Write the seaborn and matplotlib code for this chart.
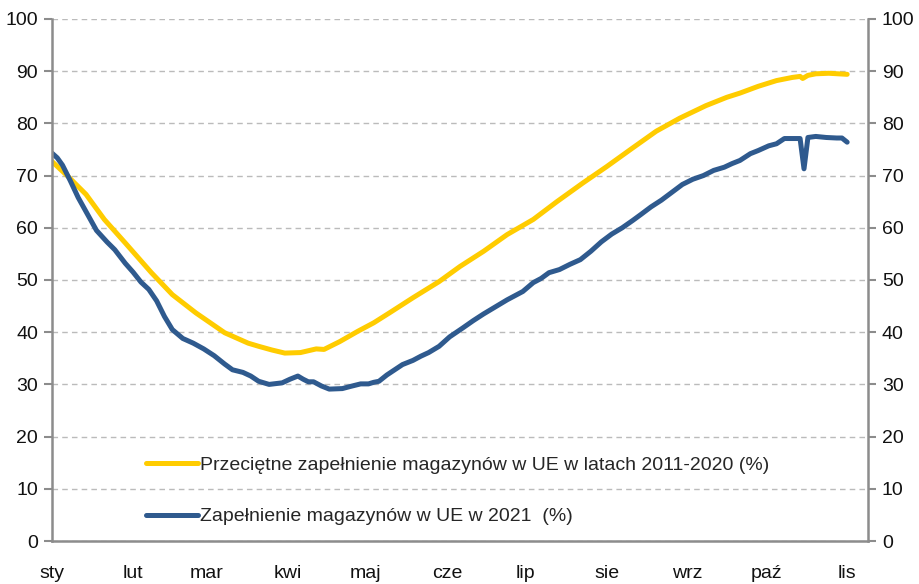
import numpy as np
import pandas as pd
import seaborn as sns
import matplotlib.pyplot as plt


MONTH_LABELS = ['sty', 'lut', 'mar', 'kwi', 'maj', 'cze', 'lip', 'sie', 'wrz', 'paź', 'lis']
MONTH_STARTS = [0, 31, 59, 90, 120, 151, 181, 212, 243, 273, 304]

# average storage fill 2011-2020 (day of year, %)
avg_days = [0, 6, 13, 20, 28, 38, 46, 55, 66, 75, 79, 84, 89, 95, 101, 104, 110, 117, 123,
            129, 138, 148, 156, 165, 174, 184, 193, 203, 212, 222, 231, 240, 250, 258, 263,
            270, 277, 283, 286, 287, 289, 292, 297, 304]
avg_vals = [72.7, 69.9, 66.4, 61.6, 57.1, 51.4, 47.2, 43.7, 39.9, 37.9, 37.3, 36.6, 36.0, 36.1,
            36.8, 36.7, 38.2, 40.2, 41.8, 43.7, 46.6, 49.7, 52.6, 55.5, 58.7, 61.6, 65.0, 68.6,
            71.7, 75.3, 78.5, 81.0, 83.4, 85.0, 85.8, 87.1, 88.2, 88.8, 89.0, 88.6, 89.2, 89.5,
            89.6, 89.4]

# storage fill 2021 (day of year, %)
y2021_days = [0, 2, 4, 7, 10, 14, 17, 21, 24, 28, 31, 34, 37, 40, 43, 46, 50, 54, 58, 62, 66,
              69, 73, 76, 79, 83, 88, 91, 94, 96, 98, 100, 103, 106, 111, 114, 118, 121, 123,
              125, 128, 131, 134, 138, 141, 144, 148, 152, 157, 161, 165, 170, 174, 177, 180,
              184, 187, 190, 194, 198, 202, 206, 210, 214, 218, 222, 225, 229, 233, 237, 241,
              245, 249, 253, 257, 260, 263, 267, 270, 274, 277, 280, 283, 286, 287.5, 289, 292,
              296, 300, 302, 304]
y2021_vals = [74.3, 73.4, 72.0, 69.0, 65.8, 62.2, 59.5, 57.3, 55.8, 53.2, 51.5, 49.6, 48.2, 46.0,
              43.0, 40.5, 38.8, 37.9, 36.8, 35.5, 33.9, 32.8, 32.3, 31.6, 30.6, 30.0, 30.3, 31.0,
              31.6, 31.0, 30.5, 30.5, 29.7, 29.1, 29.2, 29.6, 30.1, 30.1, 30.4, 30.6, 31.8, 32.8,
              33.8, 34.6, 35.4, 36.1, 37.3, 39.1, 40.8, 42.2, 43.5, 45.0, 46.2, 47.0, 47.8, 49.5,
              50.3, 51.4, 52.0, 53.0, 53.9, 55.5, 57.3, 58.8, 60.0, 61.4, 62.5, 64.0, 65.3, 66.8,
              68.3, 69.3, 70.0, 71.0, 71.6, 72.3, 72.9, 74.2, 74.8, 75.7, 76.1, 77.1, 77.1, 77.1,
              71.3, 77.3, 77.5, 77.3, 77.2, 77.2, 76.4]

LABEL_AVG = 'Przeciętne zapełnienie magazynów w UE w latach 2011-2020 (%)'
LABEL_2021 = 'Zapełnienie magazynów w UE w 2021  (%)'

sns.set_style('white')
plt.rcParams['font.family'] = ['Liberation Sans', 'DejaVu Sans']

df_avg = pd.DataFrame({'day': avg_days, 'val': avg_vals})
df_2021 = pd.DataFrame({'day': y2021_days, 'val': y2021_vals})

fig = plt.figure(figsize=(9.19, 5.84), dpi=100)
ax = fig.add_axes([0.0566, 0.0736, 0.888, 0.8939])

sns.lineplot(data=df_avg, x='day', y='val', ax=ax, color='#FFCC00', linewidth=3.6,
             label=LABEL_AVG, solid_capstyle='round')
sns.lineplot(data=df_2021, x='day', y='val', ax=ax, color='#2F5A8E', linewidth=3.6,
             label=LABEL_2021, solid_capstyle='round')

ax.set_xlim(0, 312)
ax.set_ylim(0, 100)
ax.set_xlabel('')
ax.set_ylabel('')
ax.set_xticks(MONTH_STARTS)
ax.set_xticklabels(MONTH_LABELS)
ax.set_yticks(range(0, 101, 10))
ax.grid(axis='y', color='#BBBBBB', linestyle=(0, (4, 3)), linewidth=1)

spine_color = '#8C8C8C'
for side in ['left', 'right', 'bottom']:
    ax.spines[side].set_color(spine_color)
    ax.spines[side].set_linewidth(1.8)
ax.spines['top'].set_visible(False)
ax.tick_params(axis='both', direction='out', length=6, width=1.5, color=spine_color,
               labelsize=14, labelcolor='#111111')
ax.tick_params(axis='x', pad=11)
ax.tick_params(axis='y', pad=4)

ax2 = ax.twinx()
ax2.set_ylim(0, 100)
ax2.set_yticks(range(0, 101, 10))
for side in ['left', 'right', 'bottom', 'top']:
    ax2.spines[side].set_visible(False)
ax2.tick_params(axis='y', direction='out', length=6, width=1.5, color=spine_color,
                labelsize=14, labelcolor='#111111', pad=4)

leg = ax.legend(loc='lower left', bbox_to_anchor=(0.115, 0.03), frameon=False, fontsize=14,
                handlelength=2.7, handletextpad=0.1, labelspacing=1.75, borderpad=0,
                borderaxespad=0)

fig.savefig('out.png', dpi=100)
plt.close()
